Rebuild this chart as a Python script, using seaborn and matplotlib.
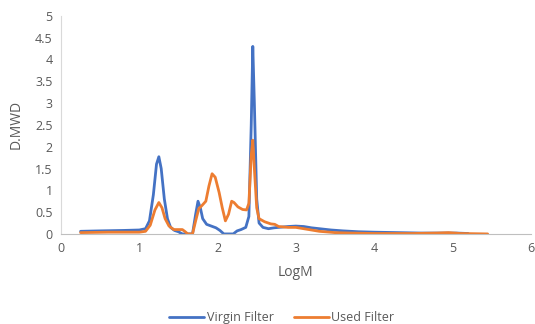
import numpy as np
import pandas as pd
import matplotlib
matplotlib.use("Agg")
import matplotlib.pyplot as plt
import seaborn as sns

# Virgin filter MWD trace (LogM, D.MWD)
virgin_logm = [0.25, 0.5, 0.8, 1.0, 1.08, 1.13, 1.18, 1.22, 1.25, 1.28, 1.32, 1.36,
               1.40, 1.45, 1.50, 1.55, 1.68, 1.72, 1.75, 1.78, 1.81, 1.86, 1.92,
               1.98, 2.03, 2.08, 2.2, 2.25, 2.3, 2.36, 2.40, 2.43, 2.45, 2.47,
               2.50, 2.53, 2.58, 2.65, 2.72, 2.78, 2.9, 3.0, 3.1, 3.2, 3.3, 3.45,
               3.6, 3.8, 4.0, 4.3, 4.6, 4.9, 5.05, 5.2]
virgin_mwd = [0.06, 0.07, 0.08, 0.09, 0.12, 0.3, 0.9, 1.6, 1.77, 1.5, 0.8, 0.35,
              0.15, 0.08, 0.05, 0.0, 0.0, 0.45, 0.75, 0.6, 0.35, 0.22, 0.18,
              0.14, 0.08, 0.0, 0.0, 0.07, 0.1, 0.15, 0.4, 2.5, 4.3, 3.0,
              0.8, 0.25, 0.15, 0.12, 0.14, 0.15, 0.17, 0.18, 0.17, 0.14, 0.12, 0.09,
              0.07, 0.05, 0.04, 0.03, 0.02, 0.02, 0.02, 0.01]

# Used filter MWD trace
used_logm = [0.25, 0.6, 1.0, 1.08, 1.14, 1.2, 1.25, 1.29, 1.33, 1.38, 1.44, 1.50,
             1.55, 1.58, 1.62, 1.68, 1.72, 1.76, 1.80, 1.85, 1.89, 1.93, 1.97,
             2.02, 2.06, 2.10, 2.14, 2.18, 2.21, 2.26, 2.32, 2.37, 2.40, 2.43,
             2.45, 2.47, 2.50, 2.53, 2.60, 2.68, 2.73, 2.78, 2.9, 3.0, 3.1, 3.2,
             3.3, 3.5, 3.7, 4.0, 4.5, 4.8, 4.95, 5.1, 5.45]
used_mwd = [0.03, 0.04, 0.04, 0.06, 0.2, 0.55, 0.72, 0.6, 0.35, 0.18, 0.1, 0.1,
            0.1, 0.06, 0.0, 0.0, 0.3, 0.58, 0.65, 0.75, 1.1, 1.38, 1.3,
            0.95, 0.6, 0.3, 0.45, 0.75, 0.72, 0.62, 0.56, 0.55, 0.7, 1.8,
            2.15, 1.5, 0.6, 0.35, 0.28, 0.23, 0.22, 0.17, 0.15, 0.15, 0.12, 0.09,
            0.06, 0.03, 0.02, 0.01, 0.01, 0.02, 0.03, 0.01, 0.0]

series_names = ["Virgin Filter", "Used Filter"]
colors = ["#4472C4", "#ED7D31"]

df = pd.concat([
    pd.DataFrame({"LogM": virgin_logm, "D.MWD": virgin_mwd, "series": series_names[0]}),
    pd.DataFrame({"LogM": used_logm, "D.MWD": used_mwd, "series": series_names[1]}),
])

sns.set_style("white")
plt.rcParams["font.family"] = ["Open Sans", "DejaVu Sans"]
text_color = "#595959"

fig = plt.figure(figsize=(5.35, 3.24), dpi=100)
ax = fig.add_axes([0.114, 0.278, 0.878, 0.673])

sns.lineplot(data=df, x="LogM", y="D.MWD", hue="series", palette=colors,
             estimator=None, sort=False, linewidth=2, ax=ax)

ax.set_xlim(0, 6)
ax.set_ylim(0, 5)
ax.set_xticks(range(0, 7))
ax.set_yticks(np.arange(0, 5.01, 0.5))
ax.set_yticklabels(["0", "0.5", "1", "1.5", "2", "2.5", "3", "3.5", "4", "4.5", "5"])
ax.tick_params(length=0, labelsize=9, colors=text_color, pad=6)

for side in ["top", "right"]:
    ax.spines[side].set_visible(False)
ax.spines["left"].set_color("#D9D9D9")
ax.spines["bottom"].set_color("#BFBFBF")

ax.set_xlabel("LogM", fontsize=10, color=text_color, labelpad=7)
ax.set_ylabel("D.MWD", fontsize=10, color=text_color, labelpad=8)

handles, labels = ax.get_legend_handles_labels()
ax.legend(handles, labels, loc="center", bbox_to_anchor=(0.47, -0.385),
          ncol=2, frameon=False, fontsize=9, labelcolor=text_color,
          handlelength=2.8, handletextpad=0.2, columnspacing=1.6)

fig.savefig("out.png", dpi=100)
